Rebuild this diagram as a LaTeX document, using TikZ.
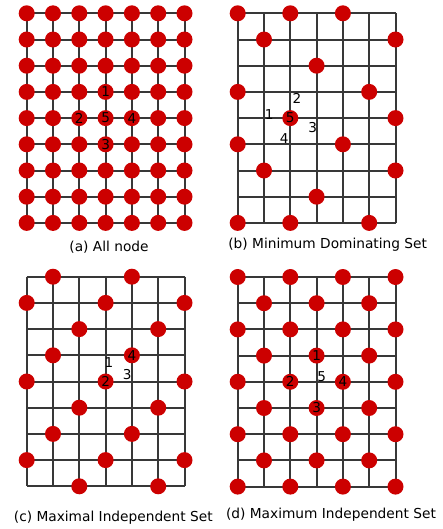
\documentclass[tikz,border=0pt]{standalone}
\usepackage{fontspec}
\setmainfont{DejaVu Sans}
\usetikzlibrary{calc}
\definecolor{nodered}{HTML}{CC0000}
\definecolor{gridgray}{HTML}{383838}
\begin{document}
\begin{tikzpicture}[x=0.75pt,y=-0.75pt,
 gline/.style={draw=gridgray, line width=1.5pt},
 vtx/.style={circle, fill=nodered, minimum size=12pt, inner sep=0pt},
 lbl/.style={font=\fontsize{10.2}{12}\selectfont, inner sep=0pt, text=black},
 captxt/.style={font=\fontsize{10.3}{12}\selectfont, inner sep=0pt}]
\useasboundingbox (0,0) rectangle (443,529);

% grid coordinates and lines
\foreach \g/\ox/\oy in {a/26.7/13.3, b/237.7/13.3, c/26.7/276.7, d/237.7/277} {
  \foreach \c in {0,...,6} {
    \foreach \r in {0,...,8} {
      \coordinate (\g-\c-\r) at ({\ox+\c*26.3},{\oy+\r*26.2});
    }
  }
  \foreach \r in {0,...,8} \draw[gline] (\g-0-\r) -- (\g-6-\r);
  \foreach \c in {0,...,6} \draw[gline] (\g-\c-0) -- (\g-\c-8);
}

% (a) all nodes
\foreach \c in {0,...,6} {
  \foreach \r in {0,...,8} {
    \node[vtx] (av-\c-\r) at (a-\c-\r) {};
  }
}
\node[lbl] (al1) at (av-3-3) {1};
\node[lbl] (al2) at (av-2-4) {2};
\node[lbl] (al5) at (av-3-4) {5};
\node[lbl] (al4) at (av-4-4) {4};
\node[lbl] (al3) at (av-3-5) {3};
\node[captxt] (capa) at (109,246.7) {(a) All node};

% (b) minimum dominating set
\foreach \c/\r in {0/0,2/0,4/0, 1/1,6/1, 3/2, 0/3,5/3, 2/4,6/4, 0/5,4/5, 1/6,6/6, 3/7, 0/8,2/8,5/8} {
  \node[vtx] (bv-\c-\r) at (b-\c-\r) {};
}
\node[lbl] (bl5) at (bv-2-4) {5};
\node[lbl] (bl2) at ($(bv-2-4)+(6.7,-19.4)$) {2};
\node[lbl] (bl1) at ($(bv-2-4)+(-21,-3.4)$) {1};
\node[lbl] (bl3) at ($(bv-2-4)+(22.4,9)$) {3};
\node[lbl] (bl4) at ($(bv-2-4)+(-6,20)$) {4};
\node[captxt] (capb) at (327.7,245) {(b) Minimum Dominating Set};

% (c) maximal independent set
\foreach \c/\r in {1/0,4/0, 0/1,3/1,6/1, 2/2,5/2, 1/3,4/3, 0/4,3/4,6/4, 2/5,5/5, 1/6,4/6, 0/7,3/7,6/7, 2/8,5/8} {
  \node[vtx] (cv-\c-\r) at (c-\c-\r) {};
}
\node[lbl] (cl4) at (cv-4-3) {4};
\node[lbl] (cl2) at (cv-3-4) {2};
\node[lbl] (cl1) at ($(cv-3-4)+(3.3,-19)$) {1};
\node[lbl] (cl3) at ($(cv-3-4)+(21.7,-6.7)$) {3};
\node[captxt] (capc) at (113.3,518) {(c) Maximal Independent Set};

% (d) maximum independent set
\foreach \c in {0,...,6} {
  \foreach \r in {0,...,8} {
    \pgfmathtruncatemacro{\parity}{mod(\c+\r,2)}
    \ifnum\parity=0 \node[vtx] (dv-\c-\r) at (d-\c-\r) {};\fi
  }
}
\node[lbl] (dl1) at (dv-3-3) {1};
\node[lbl] (dl2) at (dv-2-4) {2};
\node[lbl] (dl4) at (dv-4-4) {4};
\node[lbl] (dl3) at (dv-3-5) {3};
\node[lbl] (dl5) at ($(d-3-4)+(5,-5.4)$) {5};
\node[captxt] (capd) at (331,514.7) {(d) Maximum Independent Set};
\end{tikzpicture}
\end{document}
